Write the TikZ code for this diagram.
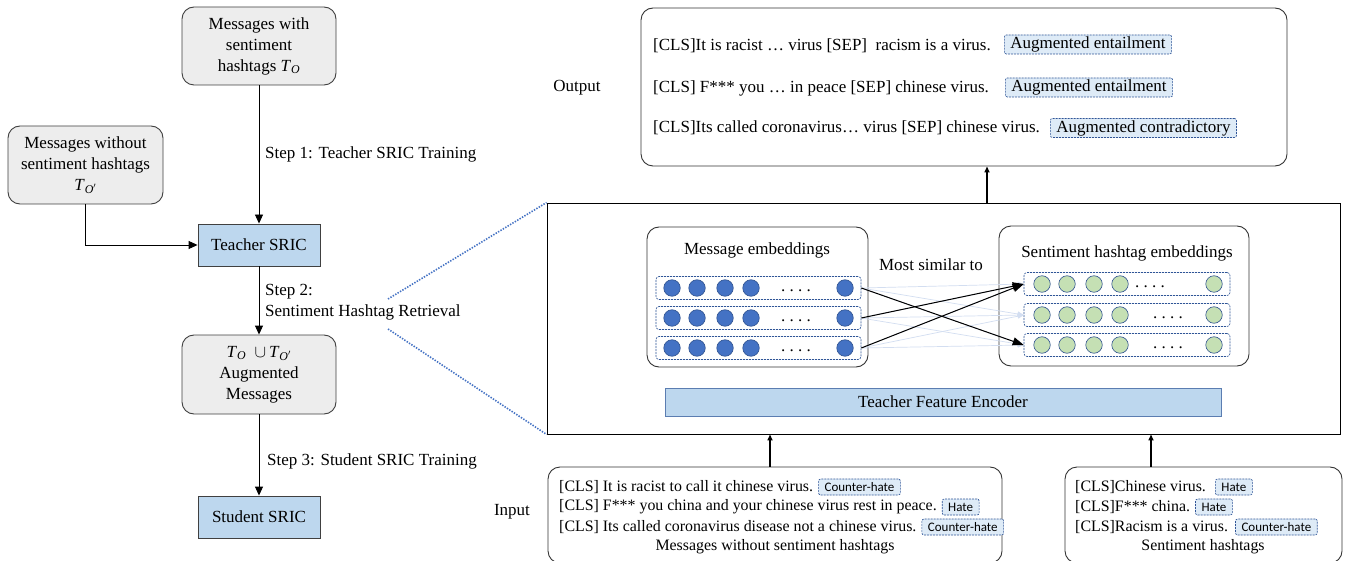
\documentclass[tikz,border=0pt]{standalone}
\usepackage{fontspec}
\setmainfont{Liberation Serif}
\newfontfamily\tagfont{Carlito}
\usetikzlibrary{arrows.meta,positioning,calc}
\definecolor{grayfill}{HTML}{EDEDED}
\definecolor{grayline}{HTML}{404040}
\definecolor{bluebox}{HTML}{BDD7EE}
\definecolor{bluebord}{HTML}{5B7DB1}
\definecolor{dotblue}{HTML}{4472C4}
\definecolor{dashblue}{HTML}{2F5597}
\definecolor{tagfill}{HTML}{DEEBF7}
\definecolor{circblue}{HTML}{4472C4}
\definecolor{circedge}{HTML}{2F528F}
\definecolor{circgreen}{HTML}{C5E0B4}
\definecolor{lightline}{HTML}{D3DEF1}
\begin{document}
\begin{tikzpicture}[x=1pt,y=-1pt,
  txt/.style={font=\fontsize{17}{21}\selectfont, inner sep=0pt},
  itxt/.style={font=\fontsize{15.9}{20}\selectfont, inner sep=0pt},
  grayboxst/.style={draw=grayline, fill=grayfill, rounded corners=12pt, line width=0.9pt, align=center, font=\fontsize{17}{21}\selectfont, inner sep=0pt},
  blueboxst/.style={draw=grayline, fill=bluebox, line width=0.9pt, font=\fontsize{17}{21}\selectfont, inner sep=0pt},
  arr/.style={-{Triangle[length=9pt,width=8pt]}, line width=0.9pt, draw=black},
  thickarr/.style={-{Triangle[length=6pt,width=5pt]}, line width=1.6pt, draw=black},
  dotline/.style={draw=dotblue, line width=1.6pt, dash pattern=on 1.4pt off 1.4pt},
  panel/.style={draw=black!80, rounded corners=12pt, line width=0.9pt, inner sep=0pt},
  rowbox/.style={draw=dashblue, dash pattern=on 2pt off 1pt, rounded corners=3pt, line width=0.6pt, minimum width=205pt, minimum height=23pt, inner sep=0pt},
  bcirc/.style={circle, draw=circedge, fill=circblue, line width=0.6pt, minimum size=16.5pt, inner sep=0pt},
  gcirc/.style={circle, draw=circedge, fill=circgreen, line width=0.6pt, minimum size=16.5pt, inner sep=0pt},
  bigtag/.style={draw=dashblue, dash pattern=on 2pt off 1pt, fill=tagfill, rounded corners=2pt, line width=0.6pt, font=\fontsize{17}{20}\selectfont, inner xsep=6pt, inner ysep=1pt, minimum height=19pt},
  smalltag/.style={draw=dashblue, dash pattern=on 2pt off 1pt, fill=tagfill, rounded corners=2pt, line width=0.6pt, font=\tagfont\fontsize{13}{15}\selectfont, inner xsep=6pt, inner ysep=1pt, minimum height=16pt},
  lightarr/.style={draw=lightline, line width=0.7pt, -{Triangle[length=6pt,width=5pt]}},
  blackarr/.style={draw=black, line width=1pt, -{Triangle[length=11pt,width=8pt]}}
]
\clip (0,0) rectangle (1348,561);
\fill[white] (0,0) rectangle (1348,561);

% ---------- left column ----------
\node[grayboxst, minimum width=154pt, minimum height=78pt] (mwith) at (259,46)
  {Messages with\\sentiment\\hashtags \textit{T}\textsubscript{\textit{O}}};
\node[grayboxst, minimum width=155pt, minimum height=78pt] (mwithout) at (85.5,165)
  {Messages without\\sentiment hashtags\\\textit{T}\textsubscript{\textit{O}$'$}};
\node[blueboxst, minimum width=122pt, minimum height=42pt] (teacher) at (259,245) {Teacher SRIC};
\node[grayboxst, minimum width=154pt, minimum height=79pt] (aug) at (259,374.5)
  {\textit{T}\textsubscript{\textit{O}}\ \ $\cup$\,\textit{T}\textsubscript{\textit{O}$'$}\\Augmented\\Messages};
\node[blueboxst, minimum width=122pt, minimum height=42pt] (student) at (259,517) {Student SRIC};

\draw[arr] (mwith.south) -- (teacher.north);
\draw[arr] (mwithout.south) |- (teacher.west);
\draw[arr] (teacher.south) -- (aug.north);
\draw[arr] (aug.south) -- (student.north);

\node[txt, anchor=west] (s1) at (265,154) {Step 1: Teacher SRIC Training};
\node[txt, anchor=west, align=left] (s2) at (265,302) {Step 2:\\Sentiment Hashtag Retrieval};
\node[txt, anchor=west] (s3) at (267,461) {Step 3: Student SRIC Training};

% ---------- big frame ----------
\node[draw=black, line width=0.9pt, minimum width=793pt, minimum height=231pt, inner sep=0pt] (big) at (943.5,318.5) {};
\coordinate (z1) at (388,299);
\coordinate (z2) at (388,329);
\draw[dotline] (z1) -- (big.north west);
\draw[dotline] (z2) -- (big.south west);

% ---------- output ----------
\node[panel, minimum width=646pt, minimum height=158pt] (out) at (964,87) {};
\node[txt, anchor=west] (o1) at (653,46) {[CLS]It is racist … virus [SEP]\ \ racism is a virus.};
\node[txt, anchor=west] (o2) at (653,88) {[CLS] F*** you … in peace [SEP] chinese virus.};
\node[txt, anchor=west] (o3) at (653,128) {[CLS]Its called coronavirus… virus [SEP] chinese virus.};
\node[bigtag, anchor=west] (t1) at (1004,44.5) {Augmented entailment};
\node[bigtag, anchor=west] (t2) at (1005,87.5) {Augmented entailment};
\node[bigtag, anchor=west] (t3) at (1050,128) {Augmented contradictory};
\node[txt] (outlbl) at (577,88) {Output};
\coordinate (oa) at (987,0);
\draw[thickarr] (big.north -| oa) -- (out.south -| oa);

% ---------- embeddings ----------
\node[panel, minimum width=221pt, minimum height=140pt] (memb) at (757.5,297) {};
\node[txt] (membt) at (757,250) {Message embeddings};
\node[panel, minimum width=250pt, minimum height=140pt] (semb) at (1124,296) {};
\node[txt] (sembt) at (1127,253) {Sentiment hashtag embeddings};
\node[txt] (most) at (931,265) {Most similar to};

\foreach \r/\y in {1/288,2/318,3/348}{
  \node[rowbox] (lr\r) at (758.5,\y) {};
  \foreach \i/\x in {1/672,2/697,3/725,4/751,5/845}{
    \node[bcirc] (lc\r\i) at (\x,\y) {};
  }
  \node[txt] (ld\r) at (796,\y+3) {.\ .\ .\ .};
}
\foreach \r/\y/\dx in {1/284/1150,2/315/1168,3/345/1168}{
  \node[rowbox, minimum width=206pt, minimum height=23pt] (rr\r) at (1127,\y) {};
  \foreach \i/\x in {1/1042,2/1067,3/1094,4/1120,5/1214}{
    \node[gcirc] (rc\r\i) at (\x,\y) {};
  }
  \node[txt] (rd\r) at (\dx,\y+3) {.\ .\ .\ .};
}
\foreach \a in {1,2,3}{
  \foreach \b in {1,2,3}{
    \draw[lightarr] (lr\a.east) -- (rr\b.west);
  }
}
\draw[blackarr] (lr1.east) -- (rr3.west);
\draw[blackarr] (lr2.east) -- (rr1.west);
\draw[blackarr] (lr3.east) -- (rr1.west);

\node[draw=bluebord, fill=bluebox, line width=0.8pt, minimum width=556pt, minimum height=28pt, inner sep=0pt, font=\fontsize{17}{21}\selectfont] (enc) at (943,402) {Teacher Feature Encoder};

% ---------- inputs ----------
\node[panel, minimum width=454pt, minimum height=96pt] (inp) at (775,515) {};
\node[itxt, anchor=west] (i1) at (559,487) {[CLS] It is racist to call it chinese virus.};
\node[itxt, anchor=west] (i2) at (559,507) {[CLS] F*** you china and your chinese virus rest in peace.};
\node[itxt, anchor=west] (i3) at (559,527) {[CLS] Its called coronavirus disease not a chinese virus.};
\node[itxt] (i4) at (775,547) {Messages without sentiment hashtags};
\node[smalltag, right=5pt of i1] (it1) {Counter-hate};
\node[smalltag, right=5pt of i2] (it2) {Hate};
\node[smalltag, right=5pt of i3] (it3) {Counter-hate};
\node[txt] (inlbl) at (512,512) {Input};

\node[panel, minimum width=277pt, minimum height=96pt] (sinp) at (1203.5,515) {};
\node[itxt, anchor=west] (h1) at (1075,487) {[CLS]Chinese virus.};
\node[itxt, anchor=west] (h2) at (1075,507) {[CLS]F*** china.};
\node[itxt, anchor=west] (h3) at (1075,527) {[CLS]Racism is a virus.};
\node[itxt] (h4) at (1203,547) {Sentiment hashtags};
\node[smalltag, right=9pt of h1] (ht1) {Hate};
\node[smalltag, right=5pt of h2] (ht2) {Hate};
\node[smalltag, right=7pt of h3] (ht3) {Counter-hate};

\coordinate (ia) at (770,0);
\coordinate (sa) at (1151,0);
\draw[thickarr] (inp.north -| ia) -- (big.south -| ia);
\draw[thickarr] (sinp.north -| sa) -- (big.south -| sa);
\end{tikzpicture}
\end{document}
